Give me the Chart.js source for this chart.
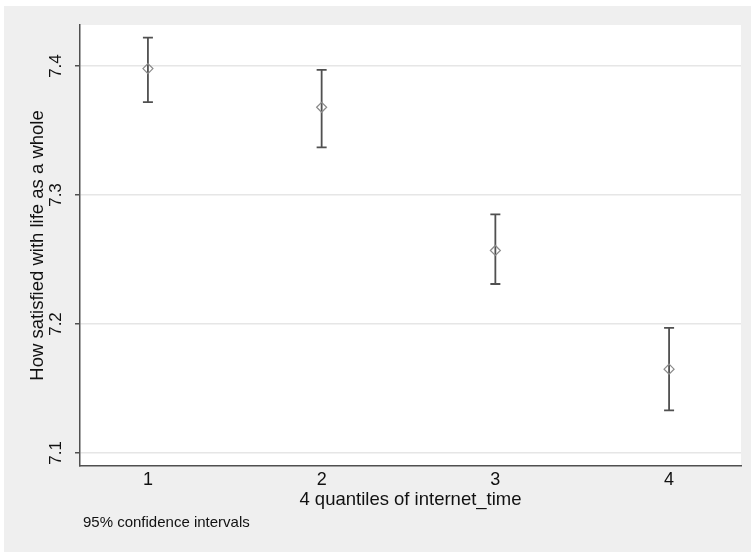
<!DOCTYPE html>
<html lang="en">
<head>
  <meta charset="UTF-8" />
  <title>Life satisfaction by internet time</title>
  <script src="https://cdn.jsdelivr.net/npm/chart.js"></script>
  <style>
    html, body {
      margin: 0;
      padding: 0;
      background: white;
    }
    .wrap {
      position: relative;
      width: 751px;
      height: 552px;
    }
    .note {
      position: absolute;
      left: 83px;
      top: 513px;
      font-family: "Liberation Sans", Arial, sans-serif;
      font-size: 15px;
      line-height: 18px;
      color: #111;
    }
  </style>
</head>
<body>
  <div class="wrap">
    <canvas id="chart" width="751" height="552"></canvas>
    <div class="note">95% confidence intervals</div>
  </div>

  <script>
    // quantile groups and estimated means with 95% CI
    const quantiles = [1, 2, 3, 4];
    const means = [7.398, 7.368, 7.257, 7.165];
    const upper = [7.422, 7.397, 7.285, 7.197];
    const lower = [7.372, 7.337, 7.231, 7.133];
    const yTicks = [7.1, 7.2, 7.3, 7.4];

    const font = "'Liberation Sans', Arial, sans-serif";

    // gray outer region + white plot region
    const background = {
      id: 'background',
      beforeDraw(chart) {
        const ctx = chart.ctx;
        const a = chart.chartArea;
        ctx.save();
        ctx.fillStyle = '#ffffff';
        ctx.fillRect(0, 0, chart.width, chart.height);
        ctx.fillStyle = '#efefef';
        ctx.fillRect(4, 6, chart.width - 4, chart.height - 6);
        ctx.fillStyle = '#ffffff';
        ctx.fillRect(a.left, a.top, a.right - a.left, a.bottom - a.top);
        ctx.restore();
      }
    };

    // vertical CI bars with caps
    const errorBars = {
      id: 'errorBars',
      beforeDatasetsDraw(chart) {
        const ctx = chart.ctx;
        const xs = chart.scales.x, ys = chart.scales.y;
        ctx.save();
        ctx.strokeStyle = '#505050';
        ctx.lineWidth = 1.8;
        quantiles.forEach((q, i) => {
          const x = xs.getPixelForValue(q);
          const yt = ys.getPixelForValue(upper[i]);
          const yb = ys.getPixelForValue(lower[i]);
          ctx.beginPath();
          ctx.moveTo(x, yt); ctx.lineTo(x, yb);
          ctx.moveTo(x - 5, yt); ctx.lineTo(x + 5, yt);
          ctx.moveTo(x - 5, yb); ctx.lineTo(x + 5, yb);
          ctx.stroke();
        });
        ctx.restore();
      }
    };

    new Chart(document.getElementById('chart'), {
      type: 'scatter',
      data: {
        datasets: [{
          data: quantiles.map((q, i) => ({ x: q, y: means[i] })),
          pointStyle: 'rectRot',
          pointRadius: 5,
          borderColor: '#8a8a8a',
          borderWidth: 1.2,
          backgroundColor: 'rgba(0,0,0,0)'
        }]
      },
      options: {
        responsive: false,
        animation: false,
        layout: { padding: { left: 4, top: 25, right: 10, bottom: 41 } },
        plugins: {
          legend: { display: false },
          tooltip: { enabled: false }
        },
        scales: {
          x: {
            type: 'linear',
            min: 0.609,
            max: 4.414,
            afterBuildTicks: axis => { axis.ticks = quantiles.map(v => ({ value: v })); },
            afterFit: axis => { axis.height = 45; },
            grid: { display: false },
            border: { display: true, color: '#505050', width: 1.5 },
            ticks: {
              padding: -5,
              color: '#111',
              font: { family: font, size: 18 },
              callback: v => String(v)
            },
            title: {
              display: true,
              text: '4 quantiles of internet_time',
              color: '#111',
              font: { family: font, size: 18.5 },
              padding: { top: 0, bottom: 0 }
            }
          },
          y: {
            min: 7.0899,
            max: 7.4318,
            afterBuildTicks: axis => { axis.ticks = yTicks.map(v => ({ value: v })); },
            afterFit: axis => { axis.width = 76; },
            grid: {
              color: '#e6e6e6',
              lineWidth: 1.5,
              tickColor: '#505050',
              tickLength: 5
            },
            border: { display: true, color: '#505050', width: 1.5 },
            ticks: {
              minRotation: 90,
              maxRotation: 90,
              crossAlign: 'center',
              padding: 7,
              color: '#111',
              font: { family: font, size: 17 },
              callback: v => v.toFixed(1)
            },
            title: {
              display: true,
              text: 'How satisfied with life as a whole',
              color: '#111',
              font: { family: font, size: 18.5 },
              padding: { top: 23, bottom: 0 }
            }
          }
        }
      },
      plugins: [background, errorBars]
    });
  </script>
</body>
</html>
